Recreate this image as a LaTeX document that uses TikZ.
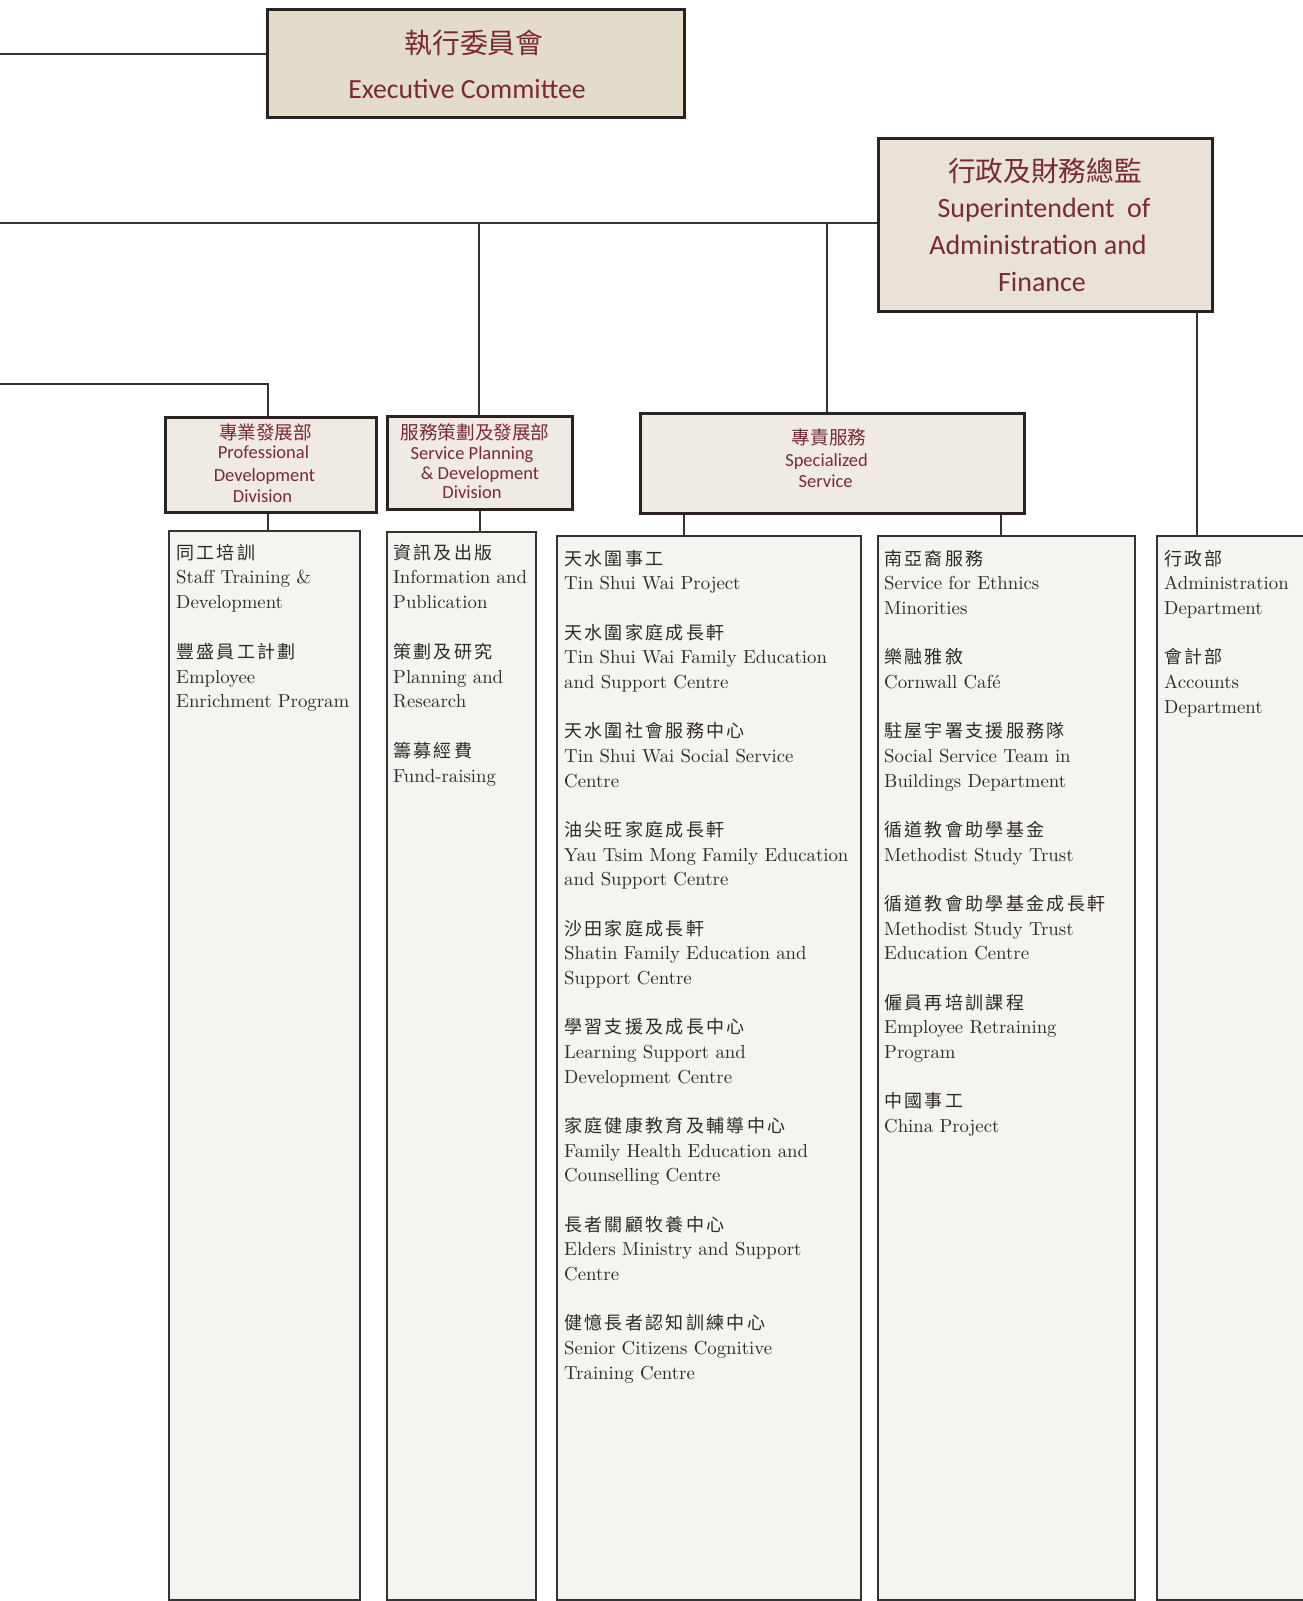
\documentclass[tikz,border=0pt]{standalone}
\usepackage{fontspec}
\usetikzlibrary{calc}
\newfontfamily\hdr{Carlito}
\newfontfamily\cjk{Noto Sans CJK TC}
\newfontfamily\cjkcol[LetterSpace=13]{Noto Sans CJK TC}
\newfontfamily\colfont{lmroman10-regular}[Extension=.otf]
\definecolor{hred}{HTML}{7A2A33}
\definecolor{boxline}{HTML}{2B2222}
\definecolor{execfill}{HTML}{E3DCCB}
\definecolor{supfill}{HTML}{E8E2D8}
\definecolor{divfill}{HTML}{EFEBE4}
\definecolor{colfill}{HTML}{F5F4F0}
\definecolor{ctextc}{HTML}{2E2A2A}
\definecolor{connc}{HTML}{333333}
\tikzset{
  topbox/.style={draw=boxline, line width=3pt, inner sep=0pt, anchor=north west},
  divbox/.style={draw=boxline, line width=2.8pt, fill=divfill, inner sep=0pt, anchor=north west},
  colbox/.style={draw=connc, line width=2pt, fill=colfill, inner sep=0pt, anchor=north west},
  conn/.style={draw=connc, line width=2pt},
  htext/.style={text=hred, inner sep=0pt, anchor=base},
  ctext/.style={text=ctextc, inner sep=0pt, anchor=base west, font=\colfont\fontsize{18.8}{18.8}\selectfont},
}
\newcommand{\cc}[1]{{\cjkcol\fontsize{18}{18}\selectfont #1}}
\begin{document}
\begin{tikzpicture}[x=1pt,y=-1pt]
\useasboundingbox (0,0) rectangle (1302,1601);
% top boxes
\node[topbox, fill=execfill, minimum width=417pt, minimum height=108pt] (exec) at (266,8) {};
\node[topbox, fill=supfill, minimum width=334pt, minimum height=173pt] (sup) at (877,137) {};
% division boxes
\node[divbox, minimum width=211pt, minimum height=95pt] (pd) at (164,416) {};
\node[divbox, minimum width=185pt, minimum height=93pt] (sp) at (386,415) {};
\node[divbox, minimum width=384pt, minimum height=100pt] (spec) at (639,412) {};
% column boxes
\node[colbox, minimum width=191pt, minimum height=1069pt] (col1) at (168,530) {};
\node[colbox, minimum width=149pt, minimum height=1068pt] (col2) at (386,531) {};
\node[colbox, minimum width=304pt, minimum height=1064pt] (col3) at (556,535) {};
\node[colbox, minimum width=257pt, minimum height=1064pt] (col4) at (877,535) {};
\node[colbox, minimum width=160pt, minimum height=1064pt] (col5) at (1156,535) {};
% connectors
\coordinate (e0) at (0,54);
\coordinate (s0) at (0,223);
\coordinate (p0) at (0,384);
\draw[conn] (e0) -- (e0 -| exec.west);
\draw[conn] (s0) -- (s0 -| sup.west);
\draw[conn] ([xshift=-0.5pt]sp.north |- s0) -- ([xshift=-0.5pt]sp.north);
\draw[conn] ([xshift=-5pt]spec.north |- s0) -- ([xshift=-5pt]spec.north);
\draw[conn] (p0) -| ([xshift=-2.5pt]pd.north);
\draw[conn] ([xshift=-2.5pt]pd.south) -- ([xshift=-2.5pt]pd.south |- col1.north);
\draw[conn] (sp.south) -- (sp.south |- col2.north);
\draw[conn] ([xshift=45pt]spec.south west) -- ([xshift=45pt]spec.south west |- col3.north);
\draw[conn] ([xshift=-25pt]spec.south east) -- ([xshift=-25pt]spec.south east |- col4.north);
\draw[conn] ([xshift=-17pt]sup.south east) -- ([xshift=-17pt]sup.south east |- col5.north);
% header texts
\node[htext, font=\cjk\fontsize{27.8}{27.8}\selectfont] (execzh) at (474,53.5) {執行委員會};
\node[htext, font=\hdr\fontsize{27.7}{27.7}\selectfont] (execen) at (467,98) {Executive Committee};
\node[htext, font=\cjk\fontsize{27.7}{27.7}\selectfont] (supzh) at (1045,181.5) {行政及財務總監};
\node[htext, font=\hdr\fontsize{28}{28}\selectfont] (supen1) at (1044,217) {Superintendent\ \ of};
\node[htext, font=\hdr\fontsize{28}{28}\selectfont] (supen2) at (1038,254) {Administration and};
\node[htext, font=\hdr\fontsize{28}{28}\selectfont] (supen3) at (1042,291) {Finance};
\node[htext, font=\cjk\fontsize{18.6}{18.6}\selectfont] (pdzh) at (265.5,439) {專業發展部};
\node[htext, font=\hdr\fontsize{18.5}{18.5}\selectfont] (pden1) at (263.5,458) {Professional};
\node[htext, font=\hdr\fontsize{18.5}{18.5}\selectfont] (pden2) at (264.5,481) {Development};
\node[htext, font=\hdr\fontsize{18.5}{18.5}\selectfont] (pden3) at (262.5,502) {Division};
\node[htext, font=\cjk\fontsize{18.6}{18.6}\selectfont] (spzh) at (475,439) {服務策劃及發展部};
\node[htext, font=\hdr\fontsize{18.5}{18.5}\selectfont] (spen1) at (472,459) {Service Planning};
\node[htext, font=\hdr\fontsize{18.5}{18.5}\selectfont] (spen2) at (480,479) {\&\ Development};
\node[htext, font=\hdr\fontsize{18.5}{18.5}\selectfont] (spen3) at (472,498) {Division};
\node[htext, font=\cjk\fontsize{18.6}{18.6}\selectfont] (speczh) at (829,444) {專責服務};
\node[htext, font=\hdr\fontsize{18.5}{18.5}\selectfont] (specen1) at (826.6,466) {Specialized};
\node[htext, font=\hdr\fontsize{18.5}{18.5}\selectfont] (specen2) at (825.6,487) {Service};
% column texts
\foreach \i/\t in {0/{\cc{同工培訓}}, 1/{Staff Training \&}, 2/{Development},
  4/{\cc{豐盛員工計劃}}, 5/{Employee}, 6/{Enrichment Program}}
  \node[ctext] (c1-\i) at (176,{559+\i*24.8}) {\t};
\foreach \i/\t in {0/{\cc{資訊及出版}}, 1/{Information and}, 2/{Publication},
  4/{\cc{策劃及研究}}, 5/{Planning and}, 6/{Research},
  8/{\cc{籌募經費}}, 9/{Fund-raising}}
  \node[ctext] (c2-\i) at (393,{559+\i*24.8}) {\t};
\foreach \i/\t in {0/{\cc{天水圍事工}}, 1/{Tin Shui Wai Project},
  3/{\cc{天水圍家庭成長軒}}, 4/{Tin Shui Wai Family Education}, 5/{and Support Centre},
  7/{\cc{天水圍社會服務中心}}, 8/{Tin Shui Wai Social Service}, 9/{Centre},
  11/{\cc{油尖旺家庭成長軒}}, 12/{Yau Tsim Mong Family Education}, 13/{and Support Centre},
  15/{\cc{沙田家庭成長軒}}, 16/{Shatin Family Education and}, 17/{Support Centre},
  19/{\cc{學習支援及成長中心}}, 20/{Learning Support and}, 21/{Development Centre},
  23/{\cc{家庭健康教育及輔導中心}}, 24/{Family Health Education and}, 25/{Counselling Centre},
  27/{\cc{長者關顧牧養中心}}, 28/{Elders Ministry and Support}, 29/{Centre},
  31/{\cc{健憶長者認知訓練中心}}, 32/{Senior Citizens Cognitive}, 33/{Training Centre}}
  \node[ctext] (c3-\i) at (564,{565+\i*24.67}) {\t};
\foreach \i/\t in {0/{\cc{南亞裔服務}}, 1/{Service for Ethnics}, 2/{Minorities},
  4/{\cc{樂融雅敘}}, 5/{Cornwall Café},
  7/{\cc{駐屋宇署支援服務隊}}, 8/{Social Service Team in}, 9/{Buildings Department},
  11/{\cc{循道教會助學基金}}, 12/{Methodist Study Trust},
  14/{\cc{循道教會助學基金成長軒}}, 15/{Methodist Study Trust}, 16/{Education Centre},
  18/{\cc{僱員再培訓課程}}, 19/{Employee Retraining}, 20/{Program},
  22/{\cc{中國事工}}, 23/{China Project}}
  \node[ctext] (c4-\i) at (884,{565+\i*24.67}) {\t};
\foreach \i/\t in {0/{\cc{行政部}}, 1/{Administration}, 2/{Department},
  4/{\cc{會計部}}, 5/{Accounts}, 6/{Department}}
  \node[ctext] (c5-\i) at (1164,{565+\i*24.67}) {\t};
\end{tikzpicture}
\end{document}
